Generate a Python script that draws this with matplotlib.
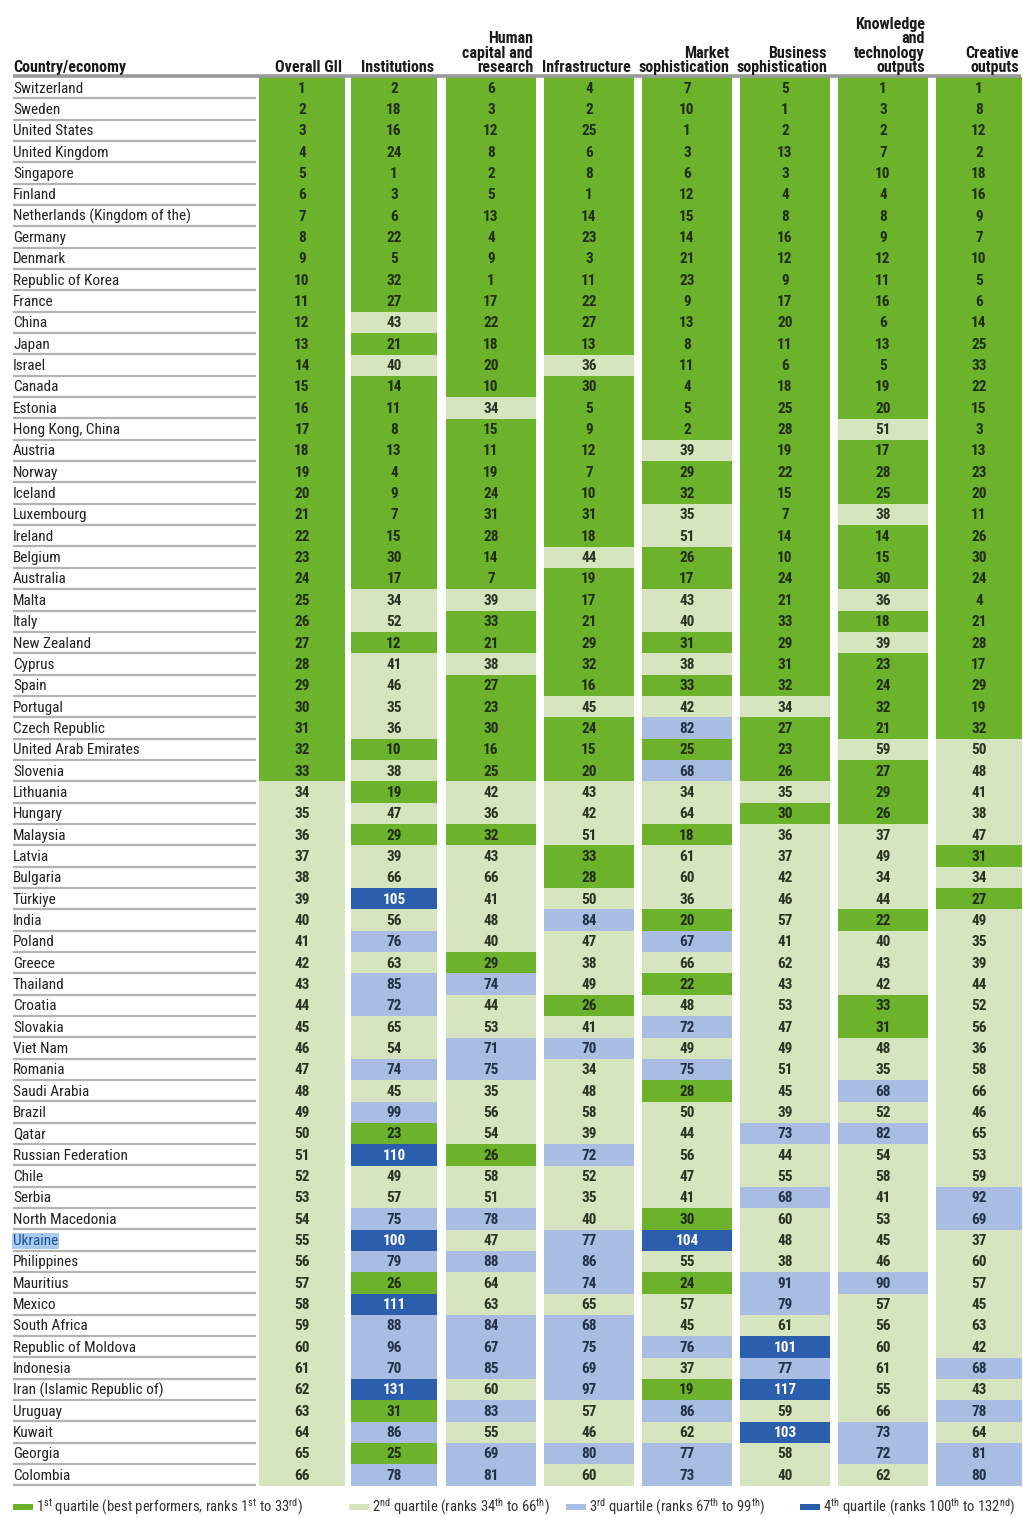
import matplotlib
matplotlib.use("Agg")
import matplotlib.pyplot as plt
from matplotlib.patches import Rectangle
from matplotlib import font_manager

# ---------------- data ----------------
countries = [
    "Switzerland", "Sweden", "United States", "United Kingdom", "Singapore", "Finland",
    "Netherlands (Kingdom of the)", "Germany", "Denmark", "Republic of Korea", "France",
    "China", "Japan", "Israel", "Canada", "Estonia", "Hong Kong, China", "Austria",
    "Norway", "Iceland", "Luxembourg", "Ireland", "Belgium", "Australia", "Malta",
    "Italy", "New Zealand", "Cyprus", "Spain", "Portugal", "Czech Republic",
    "United Arab Emirates", "Slovenia", "Lithuania", "Hungary", "Malaysia", "Latvia",
    "Bulgaria", "Türkiye", "India", "Poland", "Greece", "Thailand", "Croatia",
    "Slovakia", "Viet Nam", "Romania", "Saudi Arabia", "Brazil", "Qatar",
    "Russian Federation", "Chile", "Serbia", "North Macedonia", "Ukraine",
    "Philippines", "Mauritius", "Mexico", "South Africa", "Republic of Moldova",
    "Indonesia", "Iran (Islamic Republic of)", "Uruguay", "Kuwait", "Georgia", "Colombia",
]

column_labels = [
    "Overall GII", "Institutions", "Human\ncapital and\nresearch", "Infrastructure",
    "Market\nsophistication", "Business\nsophistication",
    "Knowledge\nand\ntechnology\noutputs", "Creative\noutputs",
]

overall_gii = list(range(1, 67))
institutions = [2, 18, 16, 24, 1, 3, 6, 22, 5, 32, 27, 43, 21, 40, 14, 11, 8, 13, 4, 9, 7, 15,
                30, 17, 34, 52, 12, 41, 46, 35, 36, 10, 38, 19, 47, 29, 39, 66, 105, 56, 76, 63,
                85, 72, 65, 54, 74, 45, 99, 23, 110, 49, 57, 75, 100, 79, 26, 111, 88, 96, 70,
                131, 31, 86, 25, 78]
human_capital = [6, 3, 12, 8, 2, 5, 13, 4, 9, 1, 17, 22, 18, 20, 10, 34, 15, 11, 19, 24, 31, 28,
                 14, 7, 39, 33, 21, 38, 27, 23, 30, 16, 25, 42, 36, 32, 43, 66, 41, 48, 40, 29,
                 74, 44, 53, 71, 75, 35, 56, 54, 26, 58, 51, 78, 47, 88, 64, 63, 84, 67, 85, 60,
                 83, 55, 69, 81]
infrastructure = [4, 2, 25, 6, 8, 1, 14, 23, 3, 11, 22, 27, 13, 36, 30, 5, 9, 12, 7, 10, 31, 18,
                  44, 19, 17, 21, 29, 32, 16, 45, 24, 15, 20, 43, 42, 51, 33, 28, 50, 84, 47, 38,
                  49, 26, 41, 70, 34, 48, 58, 39, 72, 52, 35, 40, 77, 86, 74, 65, 68, 75, 69, 97,
                  57, 46, 80, 60]
market_soph = [7, 10, 1, 3, 6, 12, 15, 14, 21, 23, 9, 13, 8, 11, 4, 5, 2, 39, 29, 32, 35, 51,
               26, 17, 43, 40, 31, 38, 33, 42, 82, 25, 68, 34, 64, 18, 61, 60, 36, 20, 67, 66,
               22, 48, 72, 49, 75, 28, 50, 44, 56, 47, 41, 30, 104, 55, 24, 57, 45, 76, 37, 19,
               86, 62, 77, 73]
business_soph = [5, 1, 2, 13, 3, 4, 8, 16, 12, 9, 17, 20, 11, 6, 18, 25, 28, 19, 22, 15, 7, 14,
                 10, 24, 21, 33, 29, 31, 32, 34, 27, 23, 26, 35, 30, 36, 37, 42, 46, 57, 41, 62,
                 43, 53, 47, 49, 51, 45, 39, 73, 44, 55, 68, 60, 48, 38, 91, 79, 61, 101, 77, 117,
                 59, 103, 58, 40]
knowledge_tech = [1, 3, 2, 7, 10, 4, 8, 9, 12, 11, 16, 6, 13, 5, 19, 20, 51, 17, 28, 25, 38, 14,
                  15, 30, 36, 18, 39, 23, 24, 32, 21, 59, 27, 29, 26, 37, 49, 34, 44, 22, 40, 43,
                  42, 33, 31, 48, 35, 68, 52, 82, 54, 58, 41, 53, 45, 46, 90, 57, 56, 60, 61, 55,
                  66, 73, 72, 62]
creative = [1, 8, 12, 2, 18, 16, 9, 7, 10, 5, 6, 14, 25, 33, 22, 15, 3, 13, 23, 20, 11, 26, 30,
            24, 4, 21, 28, 17, 29, 19, 32, 50, 48, 41, 38, 47, 31, 34, 27, 49, 35, 39, 44, 52,
            56, 36, 58, 66, 46, 65, 53, 59, 92, 69, 37, 60, 57, 45, 63, 42, 68, 43, 78, 64, 81, 80]

series = [overall_gii, institutions, human_capital, infrastructure, market_soph,
          business_soph, knowledge_tech, creative]

quartile_labels = [
    r"1$^{\mathrm{st}}$ quartile (best performers, ranks 1$^{\mathrm{st}}$ to 33$^{\mathrm{rd}}$)",
    r"2$^{\mathrm{nd}}$ quartile (ranks 34$^{\mathrm{th}}$ to 66$^{\mathrm{th}}$)",
    r"3$^{\mathrm{rd}}$ quartile (ranks 67$^{\mathrm{th}}$ to 99$^{\mathrm{th}}$)",
    r"4$^{\mathrm{th}}$ quartile (ranks 100$^{\mathrm{th}}$ to 132$^{\mathrm{nd}}$)",
]
quartile_upper = [33, 66, 99, 132]
highlight_country = "Ukraine"

# ---------------- font selection (prefer a condensed face) ----------------
entries = font_manager.fontManager.ttflist
cond_like = ("condensed", "semi-condensed", "extra-condensed", "ultra-condensed")
cond = [e for e in entries
        if str(e.stretch) in cond_like or "Condensed" in e.name or "Narrow" in e.name
        or "Condensed" in e.fname or "Narrow" in e.fname]
prefs = ["Liberation Sans Narrow", "Roboto Condensed", "Open Sans Condensed",
         "Noto Sans", "DejaVu Sans", "Open Sans", "Roboto"]
cond_names = [e.name for e in cond]
FONT = None
for p in prefs:
    if p in cond_names:
        FONT = p
        break
if FONT is None and cond_names:
    FONT = cond_names[0]
HAVE_COND = FONT is not None
if not HAVE_COND:
    FONT = "DejaVu Sans"
SC = 1.0 if HAVE_COND else 0.78

plt.rcParams["font.family"] = [FONT, "DejaVu Sans"]
if HAVE_COND:
    plt.rcParams["font.stretch"] = "condensed"
plt.rcParams["mathtext.fontset"] = "custom"
plt.rcParams["mathtext.rm"] = FONT
plt.rcParams["mathtext.it"] = FONT
plt.rcParams["mathtext.bf"] = FONT + ":bold"

q_colors = ["#6db22b", "#d6e4c0", "#a9bde2", "#2c5eae"]
q_text = ["#1f2d12", "#2a3320", "#22304a", "#ffffff"]

col_left = [259, 351, 446, 544, 642, 740, 838, 936]
col_w = [86, 86, 90, 90, 90, 90, 90, 86]
row_top0 = 77.5
pitch = 21.34

W, H = 1023, 1517
fig = plt.figure(figsize=(W / 100, H / 100), dpi=100)
ax = fig.add_axes([0, 0, 1, 1])
ax.set_xlim(0, W)
ax.set_ylim(H, 0)
ax.axis("off")


def quartile(v):
    for k, up in enumerate(quartile_upper):
        if v <= up:
            return k
    return 3


# rows
for i, name in enumerate(countries):
    top = row_top0 + i * pitch
    yc = top + pitch / 2
    if name == highlight_country:
        ax.text(13, yc + 0.5, name, fontsize=11 * SC, color="#1d4f9c", va="center", ha="left",
                bbox=dict(boxstyle="square,pad=0.05", fc="#a9cbee", ec="none"))
    else:
        ax.text(13, yc + 0.5, name, fontsize=11 * SC, color="#222222", va="center", ha="left")
    ax.plot([13, 256], [top + pitch - 0.5, top + pitch - 0.5], color="#b3b3b3", lw=1.6,
            solid_capstyle="butt")
    for j, vals in enumerate(series):
        v = vals[i]
        q = quartile(v)
        ax.add_patch(Rectangle((col_left[j], top - 0.3), col_w[j], pitch + 0.6,
                               facecolor=q_colors[q], edgecolor="none", lw=0))
        ax.text(col_left[j] + col_w[j] / 2, yc + 0.5, str(v), fontsize=11 * SC,
                fontweight="bold", color=q_text[q], ha="center", va="center", zorder=3)

# header
ax.text(13, 72, "Country/economy", fontsize=11.5 * SC, fontweight="bold", color="#1a1a1a",
        ha="left", va="baseline")
for j, lab in enumerate(column_labels):
    ax.text(col_left[j] + col_w[j] - 3, 72, lab, fontsize=11.5 * SC, fontweight="bold",
            color="#1a1a1a", ha="right", va="baseline", linespacing=0.95,
            multialignment="right")
ax.plot([13, 1021], [76.2, 76.2], color="#9a9a9a", lw=2.6, solid_capstyle="butt")

# legend
leg_x = [13, 349, 566, 800]
for k, lab in enumerate(quartile_labels):
    ax.add_patch(Rectangle((leg_x[k], 1504), 20, 6, facecolor=q_colors[k], edgecolor="none"))
    ax.text(leg_x[k] + 23, 1507, lab, fontsize=10.5 * SC, color="#333333", ha="left",
            va="center")

fig.savefig("out.png", dpi=100)
